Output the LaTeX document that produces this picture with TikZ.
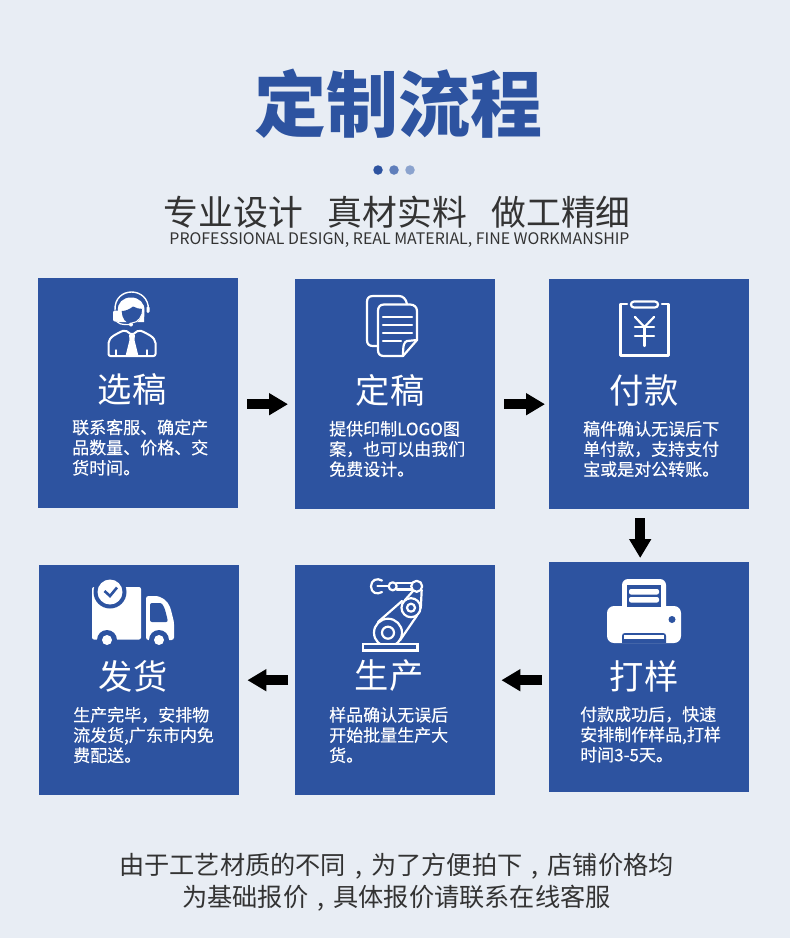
\documentclass[tikz,border=0pt]{standalone}
\usepackage{fontspec}
\setmainfont{Noto Sans CJK SC}
\newfontfamily\cardf[FakeBold=0.25]{Noto Sans CJK SC}
\usetikzlibrary{arrows.meta}
\definecolor{bgc}{HTML}{E8EDF4}
\definecolor{boxc}{HTML}{2D53A0}
\definecolor{dotb}{HTML}{5F7EBB}
\definecolor{dotc}{HTML}{8BA3CE}
\definecolor{inkc}{HTML}{333333}
\newcommand{\fc}{\makebox[25.2pt]{,}}
\tikzset{
 x=1pt,y=-1pt,
 card/.style={fill=boxc,minimum width=200pt,minimum height=230pt,inner sep=0pt,anchor=north west},
 cardtitle/.style={text=white,inner sep=0pt,font=\fontsize{34.3}{34.3}\selectfont},
 cardbody/.style={text=white,inner sep=0pt,anchor=west,align=left,font=\cardf\fontsize{17}{20.2}\selectfont},
 flow/.style={line width=9.5pt,draw=black,-{Triangle[length=19pt,width=21pt]}},
 sub/.style={text=inkc,inner sep=0pt,font=\fontsize{34.8}{34.8}\selectfont},
 foot/.style={text=inkc,inner sep=0pt,font=\fontsize{25.2}{25.2}\selectfont},
 ico/.style={draw=white,line width=2.2pt,line cap=round,line join=round},
}
\begin{document}
\begin{tikzpicture}
\useasboundingbox (0,0) rectangle (790,938);
\fill[bgc] (0,0) rectangle (790,938);

\node[text=boxc,inner sep=0pt,font=\fontsize{72}{72}\bfseries\selectfont] (title) at (398.5,104) {定制流程};
\node[circle,fill=boxc,minimum size=9.5pt,inner sep=0pt] (d1) at (378,170) {};
\node[circle,fill=dotb,minimum size=9.5pt,inner sep=0pt] (d2) at (394,170) {};
\node[circle,fill=dotc,minimum size=9.5pt,inner sep=0pt] (d3) at (410,170) {};
\node[sub] (s1) at (233.5,212.5) {专业设计};
\node[sub] (s2) at (397.5,212.5) {真材实料};
\node[sub] (s3) at (561,212.5) {做工精细};
\node[text=inkc,inner sep=0pt,font=\fontsize{15.9}{16}\selectfont] (en) at (399.5,240) {PROFESSIONAL DESIGN, REAL MATERIAL, FINE WORKMANSHIP};

% cards
\node[card] (b1) at (38,278) {};
\node[card] (b2) at (295,279) {};
\node[card] (b3) at (549,279) {};
\node[card] (b4) at (549,562) {};
\node[card] (b5) at (295,565) {};
\node[card] (b6) at (39,565) {};

% connectors
\draw[flow,shorten <=9pt,shorten >=7pt] ([yshift=-11pt]b1.east) -- ([yshift=-10pt]b2.west);
\draw[flow,shorten <=9pt,shorten >=4pt] ([yshift=-10pt]b2.east) -- ([yshift=-10pt]b3.west);
\draw[flow,shorten <=9pt,shorten >=4pt] ([xshift=-9pt]b3.south) -- ([xshift=-9pt]b4.north);
\draw[flow,shorten <=7pt,shorten >=6pt] ([yshift=-3pt]b4.west) -- (b5.east);
\draw[flow,shorten <=7pt,shorten >=8pt] (b5.west) -- (b6.east);

% titles and text
\node[cardtitle] (t1) at (132,389) {选稿};
\node[cardbody] (x1) at (72,447.5) {联系客服、确定产\\品数量、价格、交\\货时间。};
\node[cardtitle] (t2) at (390,390) {定稿};
\node[cardbody] (x2) at (329,449) {提供印制LOGO图\\案，也可以由我们\\免费设计。};
\node[cardtitle] (t3) at (644,390) {付款};
\node[cardbody] (x3) at (583,449) {稿件确认无误后下\\单付款，支持支付\\宝或是对公转账。};
\node[cardtitle] (t4) at (644,676) {打样};
\node[cardbody] (x4) at (580,734.5) {付款成功后，快速\\安排制作样品,打样\\时间3-5天。};
\node[cardtitle] (t5) at (389,676) {生产};
\node[cardbody] (x5) at (329,735) {样品确认无误后\\开始批量生产大\\货。};
\node[cardtitle] (t6) at (133,676) {发货};
\node[cardbody] (x6) at (73,735) {生产完毕，安排物\\流发货,广东市内免\\费配送。};

\node[foot] (f1) at (396.5,866) {由于工艺材质的不同\fc 为了方便拍下\fc 店铺价格均};
\node[foot] (f2) at (396.5,898) {为基础报价\fc 具体报价请联系在线客服};

% icon: agent
\draw[ico,line width=1.4pt] (115,310) .. controls (114,286) and (149,286) .. (148.5,310);
\fill[white] (118,311) .. controls (117,303) and (123,297.5) .. (131,297.5) .. controls (139,297.5) and (145,303) .. (144.5,311) -- (144,322) -- (118,322) -- cycle;
\fill[white,rounded corners=2pt] (113,310.5) rectangle (119,321.5);
\fill[white,rounded corners=1.5pt] (146.5,306) rectangle (149.5,313);
\fill[boxc] (121.7,311) .. controls (126,311) and (130,309) .. (133,306.5) .. controls (136,308) and (139,309) .. (142.7,309)
  .. controls (143,316) and (138,324) .. (131.7,324) .. controls (126,324) and (121.7,318) .. (121.7,311) -- cycle;
\draw[draw=white,line width=1pt] (142.7,309) .. controls (143,316) and (138,323) .. (131.7,323);
\draw[ico,line width=1.2pt] (115.5,319) .. controls (117,324) and (122,325) .. (130,324.5);
\fill[white] (131,324.5) circle (2);
\draw[ico,rounded corners=2pt,line width=2pt] (108.5,356) -- (108.5,345) .. controls (108.5,337) and (118,333) .. (125,330)
  -- (132,335) -- (139,330) .. controls (146,333) and (155.5,337) .. (155.5,345) -- (155.5,356) -- cycle;
\fill[white] (129,334.5) -- (135,334.5) -- (134.5,340) -- (138.5,356) -- (125.5,356) -- (129.5,340) -- cycle;
\draw[ico,line width=1.4pt] (116,350) -- (116,356) (147,350) -- (147,356);

% icon: documents
\draw[ico] (377,346) -- (373,346) .. controls (369,346) and (367,344) .. (367,340) -- (367,302)
  .. controls (367,298) and (369,296) .. (373,296) -- (399,296) .. controls (403,296) and (406,299) .. (407,304);
\draw[ico] (384,304.5) -- (410,304.5) .. controls (414,304.5) and (417,307) .. (417,311) -- (417,340)
  -- (403,356) -- (384,356) .. controls (380,356) and (378,354) .. (378,350) -- (378,311) .. controls (378,307) and (380,304.5) .. (384,304.5) -- cycle;
\draw[ico] (417,340) -- (407,341) .. controls (404,342) and (403,345) .. (403,356);
\draw[ico] (383,317) -- (412,317) (383,325) -- (412,325) (383,333) -- (412,333) (383,341) -- (401,341);

% icon: clipboard with yen
\draw[ico] (627,304) -- (620.5,304) -- (620.5,355.5) -- (668.5,355.5) -- (668.5,304) -- (662,304);
\draw[ico] (634,301.5) -- (655,301.5) .. controls (659,301.5) and (659,307.5) .. (655,307.5) -- (634,307.5) .. controls (630,307.5) and (630,301.5) .. (634,301.5) -- cycle;
\draw[ico] (635,317) -- (644.5,327) -- (654,317);
\draw[ico] (635,327) -- (654,327) (635,336) -- (654,336) (644.5,327) -- (644.5,346);

% icon: printer
\fill[white,rounded corners=6pt] (622,579) rectangle (666,620);
\fill[white,rounded corners=7pt] (607,606) rectangle (681,643);
\fill[boxc] (627,585) rectangle (661,606.5);
\fill[white,rounded corners=2pt] (629,589) rectangle (659,594.5);
\fill[white,rounded corners=2pt] (629,597) rectangle (659,602.5);
\fill[boxc] (672,619.5) circle (3.5);
\fill[boxc] (622,643) -- (622,636) .. controls (622,634) and (623,633) .. (625,633) -- (663,633) .. controls (665,633) and (666,634) .. (666,636) -- (666,643) -- cycle;
\fill[white] (624,635) rectangle (664,639);

% icon: robot arm
\draw[ico] (388,632.7) circle (14);
\draw[ico] (388,632.7) circle (6);
\draw[ico] (411,607.7) circle (9.5);
\draw[ico] (411,607.7) circle (4);
\draw[ico] (416.7,586.3) circle (5.5);
\draw[ico] (392.7,586.3) circle (4);
\draw[ico] (396.7,583) -- (412,583) (396.7,589.5) -- (411.5,589.5);
\draw[ico] (413,591) -- (405,600) (421.7,590) -- (420.8,608);
\draw[ico] (378,622) -- (402,601) (400,640.3) -- (417,615.5);
\draw[ico] (382,580.5) .. controls (377,577.5) and (371,580) .. (371,586.3) .. controls (371,593) and (377,595) .. (382,592);
\draw[ico] (377.5,586.3) -- (388.5,586.3);
\draw[ico,fill=boxc,line cap=butt,line join=miter] (363,644) rectangle (417.5,650.5);

% icon: truck
\fill[white,rounded corners=2pt] (92,587) rectangle (141,639.5);
\fill[white,rounded corners=2.5pt] (146,640) -- (146,596) -- (152,596) .. controls (162,596) and (168,601) .. (171,610) -- (174,622) -- (174,640) -- cycle;
\fill[boxc,rounded corners=2pt] (150,603) -- (158,603) .. controls (163,603) and (165,608) .. (168,622) -- (150,622) -- cycle;
\fill[boxc] (107,640) circle (10);
\fill[boxc] (159,640) circle (10);
\fill[boxc] (60,641) rectangle (200,655);
\fill[white] (107,640) circle (5);
\fill[white] (159,640) circle (5);
\fill[boxc] (110,592) circle (16.5);
\fill[white] (110,592) circle (12.5);
\draw[draw=boxc,line width=2.6pt,line join=miter] (104.5,591) -- (110,596) -- (117,587.5);
\end{tikzpicture}
\end{document}
